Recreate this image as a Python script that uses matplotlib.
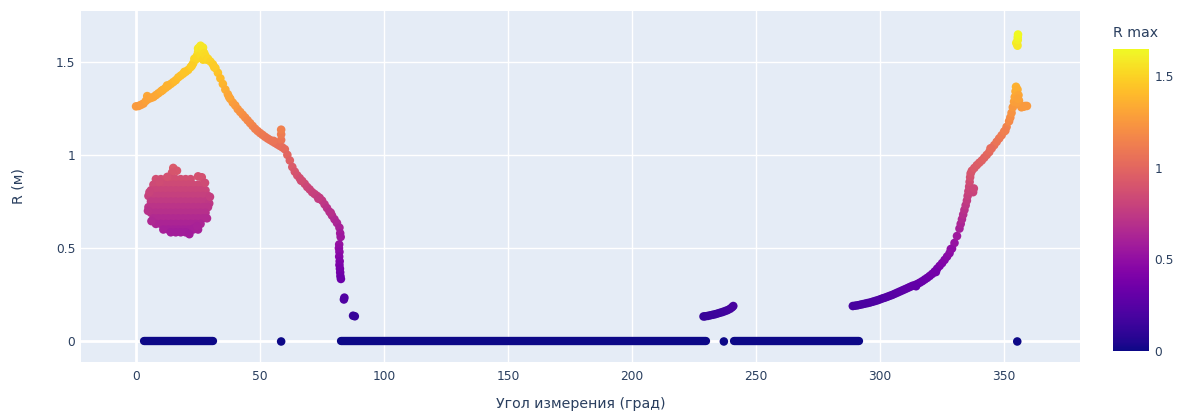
import numpy as np
import matplotlib
matplotlib.use('Agg')
import matplotlib.pyplot as plt

# --- upper arc, 0..88 deg (angle, R) ---
arc_angle = [0, 1, 2, 3, 4, 4.5, 5, 6, 7, 8, 9, 10, 10.5, 11, 12, 13, 14, 15, 16, 17,
             18, 19, 20, 21, 22, 23, 23.5, 24, 24.5, 25, 25, 25, 25.5, 26, 26, 26.5,
             27, 27, 27, 27.5, 28, 28.5, 29, 30, 31, 32, 33, 34, 35, 36, 37, 38, 39,
             40, 41, 42, 43, 44, 45, 46, 47, 48, 49, 50, 51, 52, 53, 54, 55, 56, 57,
             58, 58.5, 58.5, 58.5, 59, 60, 61, 62, 63, 64, 65, 66, 67, 68, 69, 70,
             71, 72, 73, 74, 75, 76, 77, 78, 79, 80, 81, 82, 82.3, 82.5, 81.9, 81.8,
             82.0, 81.9, 82.1, 82.0, 82.2, 82.3, 82.4, 82.6, 84.0, 83.8, 87.5, 88.2,
             12.5, 19.5, 22.5, 31.5, 37.5, 55.5, 66.5, 73.5, 78.5]
arc_r = [1.26, 1.262, 1.268, 1.275, 1.29, 1.315, 1.30, 1.305, 1.31, 1.32, 1.33, 1.34,
         1.345, 1.35, 1.36, 1.37, 1.38, 1.39, 1.40, 1.415, 1.425, 1.435, 1.445, 1.455,
         1.47, 1.49, 1.515, 1.51, 1.53, 1.55, 1.52, 1.57, 1.575, 1.585, 1.535, 1.565,
         1.555, 1.51, 1.575, 1.545, 1.53, 1.51, 1.515, 1.50, 1.485, 1.465, 1.44, 1.41,
         1.38, 1.35, 1.325, 1.30, 1.28, 1.265, 1.245, 1.23, 1.215, 1.20, 1.185, 1.17,
         1.155, 1.14, 1.128, 1.117, 1.107, 1.097, 1.088, 1.08, 1.072, 1.064, 1.056,
         1.048, 1.08, 1.11, 1.135, 1.04, 1.03, 1.00, 0.97, 0.935, 0.91, 0.89, 0.875,
         0.86, 0.845, 0.828, 0.815, 0.80, 0.79, 0.78, 0.77, 0.755, 0.735, 0.715,
         0.695, 0.675, 0.655, 0.635, 0.61, 0.58, 0.56, 0.52, 0.50, 0.48, 0.455, 0.43,
         0.41, 0.39, 0.37, 0.35, 0.335, 0.235, 0.225, 0.138, 0.135,
         1.372, 1.445, 1.478, 1.47, 1.31, 1.075, 0.862, 0.765, 0.69]

# --- cluster of returns near 5..30 deg ---
blob_angle = [15, 16.5, 14.5,
              8, 10, 12, 14, 16, 18, 20, 22, 25, 26.5,
              7, 9, 11, 13, 15, 17, 19, 21, 23, 25, 27,
              6, 8, 10, 12, 14, 16, 18, 20, 22, 24, 26, 28,
              5, 7, 9, 11, 13, 15, 17, 19, 21, 23, 25, 27, 29,
              6, 8, 10, 12, 14, 16, 18, 20, 22, 24, 26, 28, 29.5,
              5, 7, 9, 11, 13, 15, 17, 19, 21, 23, 25, 27, 29,
              6, 8, 10, 12, 14, 16, 18, 20, 22, 24, 26, 28,
              7, 9, 11, 13, 15, 17, 19, 21, 23, 25, 27,
              8, 10, 12, 14, 16, 18, 20, 22, 24, 26,
              11, 13, 15, 17, 19, 21, 23, 25,
              14, 16, 18, 20,
              5.4, 4.8, 29.8, 28.6, 23.2, 21.5, 24.6, 9.5, 12.6, 6.2, 27.8]
blob_r = [0.93, 0.915, 0.905,
          0.87, 0.87, 0.87, 0.87, 0.87, 0.87, 0.87, 0.87, 0.885, 0.88,
          0.84, 0.84, 0.84, 0.84, 0.84, 0.84, 0.84, 0.84, 0.84, 0.84, 0.84,
          0.81, 0.81, 0.81, 0.81, 0.81, 0.81, 0.81, 0.81, 0.81, 0.81, 0.81, 0.81,
          0.78, 0.78, 0.78, 0.78, 0.78, 0.78, 0.78, 0.78, 0.78, 0.78, 0.78, 0.78, 0.78,
          0.75, 0.75, 0.75, 0.75, 0.75, 0.75, 0.75, 0.75, 0.75, 0.75, 0.75, 0.75, 0.74,
          0.72, 0.72, 0.72, 0.72, 0.72, 0.72, 0.72, 0.72, 0.72, 0.72, 0.72, 0.72, 0.72,
          0.69, 0.69, 0.69, 0.69, 0.69, 0.69, 0.69, 0.69, 0.69, 0.69, 0.69, 0.69,
          0.66, 0.66, 0.66, 0.66, 0.66, 0.66, 0.66, 0.66, 0.66, 0.66, 0.66,
          0.63, 0.63, 0.63, 0.63, 0.63, 0.63, 0.63, 0.63, 0.63, 0.63,
          0.60, 0.60, 0.60, 0.60, 0.60, 0.60, 0.60, 0.60,
          0.585, 0.585, 0.585, 0.585,
          0.80, 0.70, 0.775, 0.66, 0.605, 0.575, 0.618, 0.855, 0.882, 0.645, 0.85]

# --- short segment near 229..241 deg ---
mid_angle = [228.8, 229.5, 230.5, 231.5, 232.5, 233.5, 234.5, 235.5, 236.5, 237.5,
             238.5, 239.5, 240.3, 240.8]
mid_r = [0.134, 0.135, 0.137, 0.14, 0.143, 0.146, 0.15, 0.154, 0.158, 0.163, 0.168,
         0.175, 0.183, 0.19]

# --- right rising curve 289..359 deg ---
right_angle = [289, 290, 291, 292, 293, 294, 295, 296, 297, 298, 299, 300, 301, 302,
               303, 304, 305, 306, 307, 308, 309, 310, 311, 312, 313, 314, 315, 316,
               317, 318, 319, 320, 321, 322, 323, 324, 325, 326, 327, 328, 329, 330,
               331, 332, 332.5, 333, 333.5, 334, 334.5, 335, 335.3, 335.6, 335.9,
               336.1, 336.3, 336.5, 337.5, 337.8, 337, 338, 339, 340, 341, 342, 343,
               344, 345, 346, 347, 348, 349, 350, 351, 352, 352.5, 353, 353.5, 354,
               354.3, 354.6, 354.8, 355.4, 355.8, 356, 356.3, 357, 357.8, 358.5,
               359.2, 355.3, 355.6,
               355.2, 354.9, 355.4, 355.5, 355.5, 355.6,
               314.5, 322.5, 328.5, 344.5, 350.5]
right_r = [0.19, 0.192, 0.194, 0.197, 0.20, 0.203, 0.206, 0.209, 0.213, 0.217, 0.221,
           0.226, 0.231, 0.235, 0.24, 0.245, 0.25, 0.256, 0.262, 0.268, 0.274, 0.28,
           0.286, 0.292, 0.298, 0.302, 0.308, 0.315, 0.323, 0.332, 0.341, 0.351,
           0.362, 0.375, 0.39, 0.405, 0.42, 0.437, 0.455, 0.473, 0.498, 0.528, 0.565,
           0.605, 0.63, 0.655, 0.68, 0.705, 0.73, 0.755, 0.78, 0.805, 0.83, 0.855,
           0.88, 0.90, 0.80, 0.82, 0.915, 0.93, 0.945, 0.958, 0.97, 0.985, 1.0, 1.015,
           1.035, 1.052, 1.07, 1.088, 1.105, 1.125, 1.15, 1.18, 1.2, 1.225, 1.255,
           1.285, 1.31, 1.34, 1.365, 1.35, 1.32, 1.29, 1.27, 1.255, 1.258, 1.262,
           1.262, 1.28, 1.30,
           1.595, 1.60, 1.585, 1.615, 1.63, 1.645,
           0.296, 0.372, 0.495, 1.035, 1.13]

# --- spans and single points where R = 0 ---
zero_spans = [(3.2, 31.0), (82.7, 229.8), (241.0, 291.5)]
zero_single = [58.5, 237.0, 355.3]

angles = np.array(arc_angle + blob_angle + mid_angle + right_angle)
r_vals = np.array(arc_r + blob_r + mid_r + right_r)

text_col = '#2a3f5f'
cmap = plt.get_cmap('plasma')
vmax = 1.65

fig = plt.figure(figsize=(11.79, 4.17), dpi=100)
ax = fig.add_axes([81 / 1179, 1 - 362 / 417, 999 / 1179, 351 / 417])
ax.set_facecolor('#E5ECF6')
for s in ax.spines.values():
    s.set_visible(False)

for gx in [50, 100, 150, 200, 250, 300, 350]:
    ax.axvline(gx, color='white', lw=1.0, zorder=0)
for gy in [0.5, 1, 1.5]:
    ax.axhline(gy, color='white', lw=1.0, zorder=0)
ax.axvline(0, color='white', lw=2.0, zorder=0)
ax.axhline(0, color='white', lw=2.0, zorder=0)

zero_col = cmap(0.0)
for a0, a1 in zero_spans:
    ax.plot([a0, a1], [0, 0], color=zero_col, lw=6.0, solid_capstyle='round', zorder=2)
ax.scatter(zero_single, [0] * len(zero_single), c=[0] * len(zero_single), cmap=cmap,
           vmin=0, vmax=vmax, s=38, linewidths=0, zorder=2)

sc = ax.scatter(angles, r_vals, c=r_vals, cmap=cmap, vmin=0, vmax=vmax, s=38,
                linewidths=0, zorder=3)

ax.set_xlim(-22.2, 380.6)
ax.set_ylim(-0.110, 1.771)
ax.set_xticks([0, 50, 100, 150, 200, 250, 300, 350])
ax.set_yticks([0, 0.5, 1, 1.5])
ax.set_yticklabels(['0', '0.5', '1', '1.5'])
ax.tick_params(length=0, labelsize=8.8, colors=text_col, pad=6)
ax.tick_params(axis='y', pad=4)
ax.set_xlabel('Угол измерения (град)', fontsize=10.2, color=text_col, labelpad=10)
ax.set_ylabel('R (м)', fontsize=10.2, color=text_col, labelpad=22)

cax = fig.add_axes([1113 / 1179, 1 - 351 / 417, 36 / 1179, 302 / 417])
cb = fig.colorbar(sc, cax=cax)
cb.outline.set_visible(False)
cb.set_ticks([0, 0.5, 1, 1.5])
cb.set_ticklabels(['0', '0.5', '1', '1.5'])
cax.tick_params(length=0, labelsize=8.8, colors=text_col, pad=4)
fig.text(1113 / 1179, 1 - 33 / 417, 'R max', fontsize=10.2, color=text_col,
         ha='left', va='center')

fig.savefig('out.png', dpi=100)
